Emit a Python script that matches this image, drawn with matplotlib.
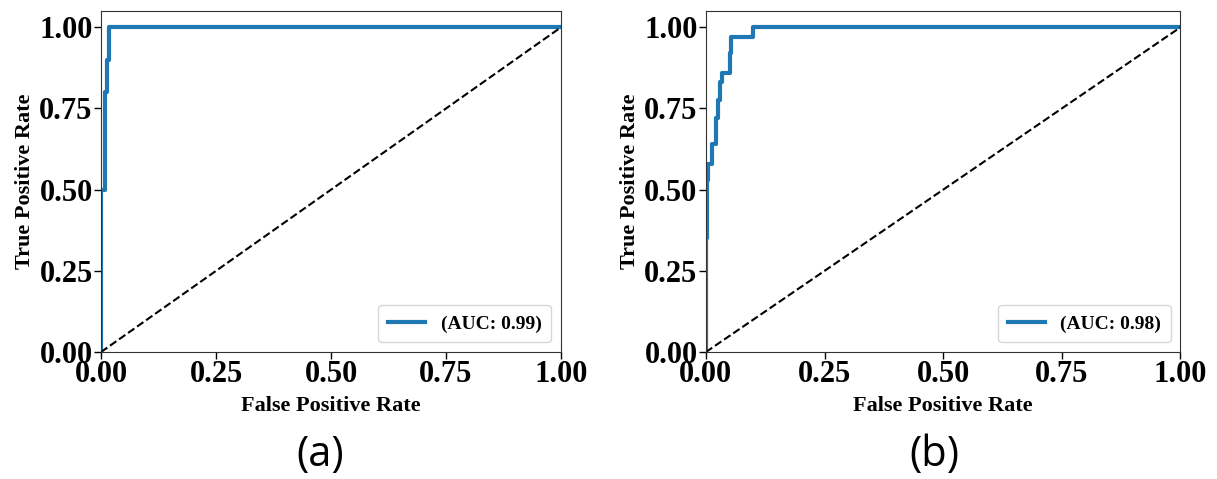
import matplotlib
matplotlib.use("Agg")
import matplotlib.pyplot as plt

# ROC curve (a)
fpr_a = [0.0, 0.0, 0.008, 0.008, 0.013, 0.013, 0.017, 0.017, 1.0]
tpr_a = [0.0, 0.5, 0.5, 0.8, 0.8, 0.9, 0.9, 1.0, 1.0]
auc_a = 0.99

# ROC curve (b)
fpr_b = [0.0, 0.0, 0.002, 0.002, 0.004, 0.004, 0.013, 0.013, 0.022, 0.022,
         0.025, 0.025, 0.029, 0.029, 0.033, 0.033, 0.05, 0.05, 0.053, 0.053,
         0.10, 0.10, 1.0]
tpr_b = [0.0, 0.35, 0.35, 0.53, 0.53, 0.58, 0.58, 0.64, 0.64, 0.72,
         0.72, 0.775, 0.775, 0.83, 0.83, 0.86, 0.86, 0.92, 0.92, 0.97,
         0.97, 1.0, 1.0]
auc_b = 0.98

ticks = [0.0, 0.25, 0.5, 0.75, 1.0]
tick_labels = ["0.00", "0.25", "0.50", "0.75", "1.00"]

serif = "Liberation Serif"

fig = plt.figure(figsize=(12.17, 4.79), dpi=100)
ax1 = fig.add_axes([0.083, 0.265, 0.378, 0.712])
ax2 = fig.add_axes([0.580, 0.265, 0.390, 0.712])

for ax, fpr, tpr, auc, tag, cx in [(ax1, fpr_a, tpr_a, auc_a, "(a)", 0.263),
                                   (ax2, fpr_b, tpr_b, auc_b, "(b)", 0.768)]:
    ax.plot(fpr, tpr, color="#1f77b4", lw=3, label=f"(AUC: {auc:.2f})")
    ax.plot([0, 1], [0, 1], "k--", lw=1.5)
    ax.set_xlim(0, 1)
    ax.set_ylim(0, 1.05)
    ax.set_xticks(ticks)
    ax.set_yticks(ticks)
    ax.set_xticklabels(tick_labels, fontfamily=serif, fontweight="bold", fontsize=22)
    ax.set_yticklabels(tick_labels, fontfamily=serif, fontweight="bold", fontsize=22)
    ax.tick_params(length=5, width=1, pad=1)
    ax.set_xlabel("False Positive Rate", fontfamily=serif, fontweight="bold",
                  fontsize=16, labelpad=5)
    ax.set_ylabel("True Positive Rate", fontfamily=serif, fontweight="bold",
                  fontsize=16, labelpad=3)
    for s in ax.spines.values():
        s.set_color("#333333")
    ax.legend(loc="lower right", prop={"family": serif, "weight": "bold", "size": 14},
              handlelength=1.9, borderpad=0.5)
    fig.text(cx, 0.05, tag, ha="center", va="center", fontsize=30,
             fontfamily="Open Sans")

fig.savefig("out.png", dpi=100)
